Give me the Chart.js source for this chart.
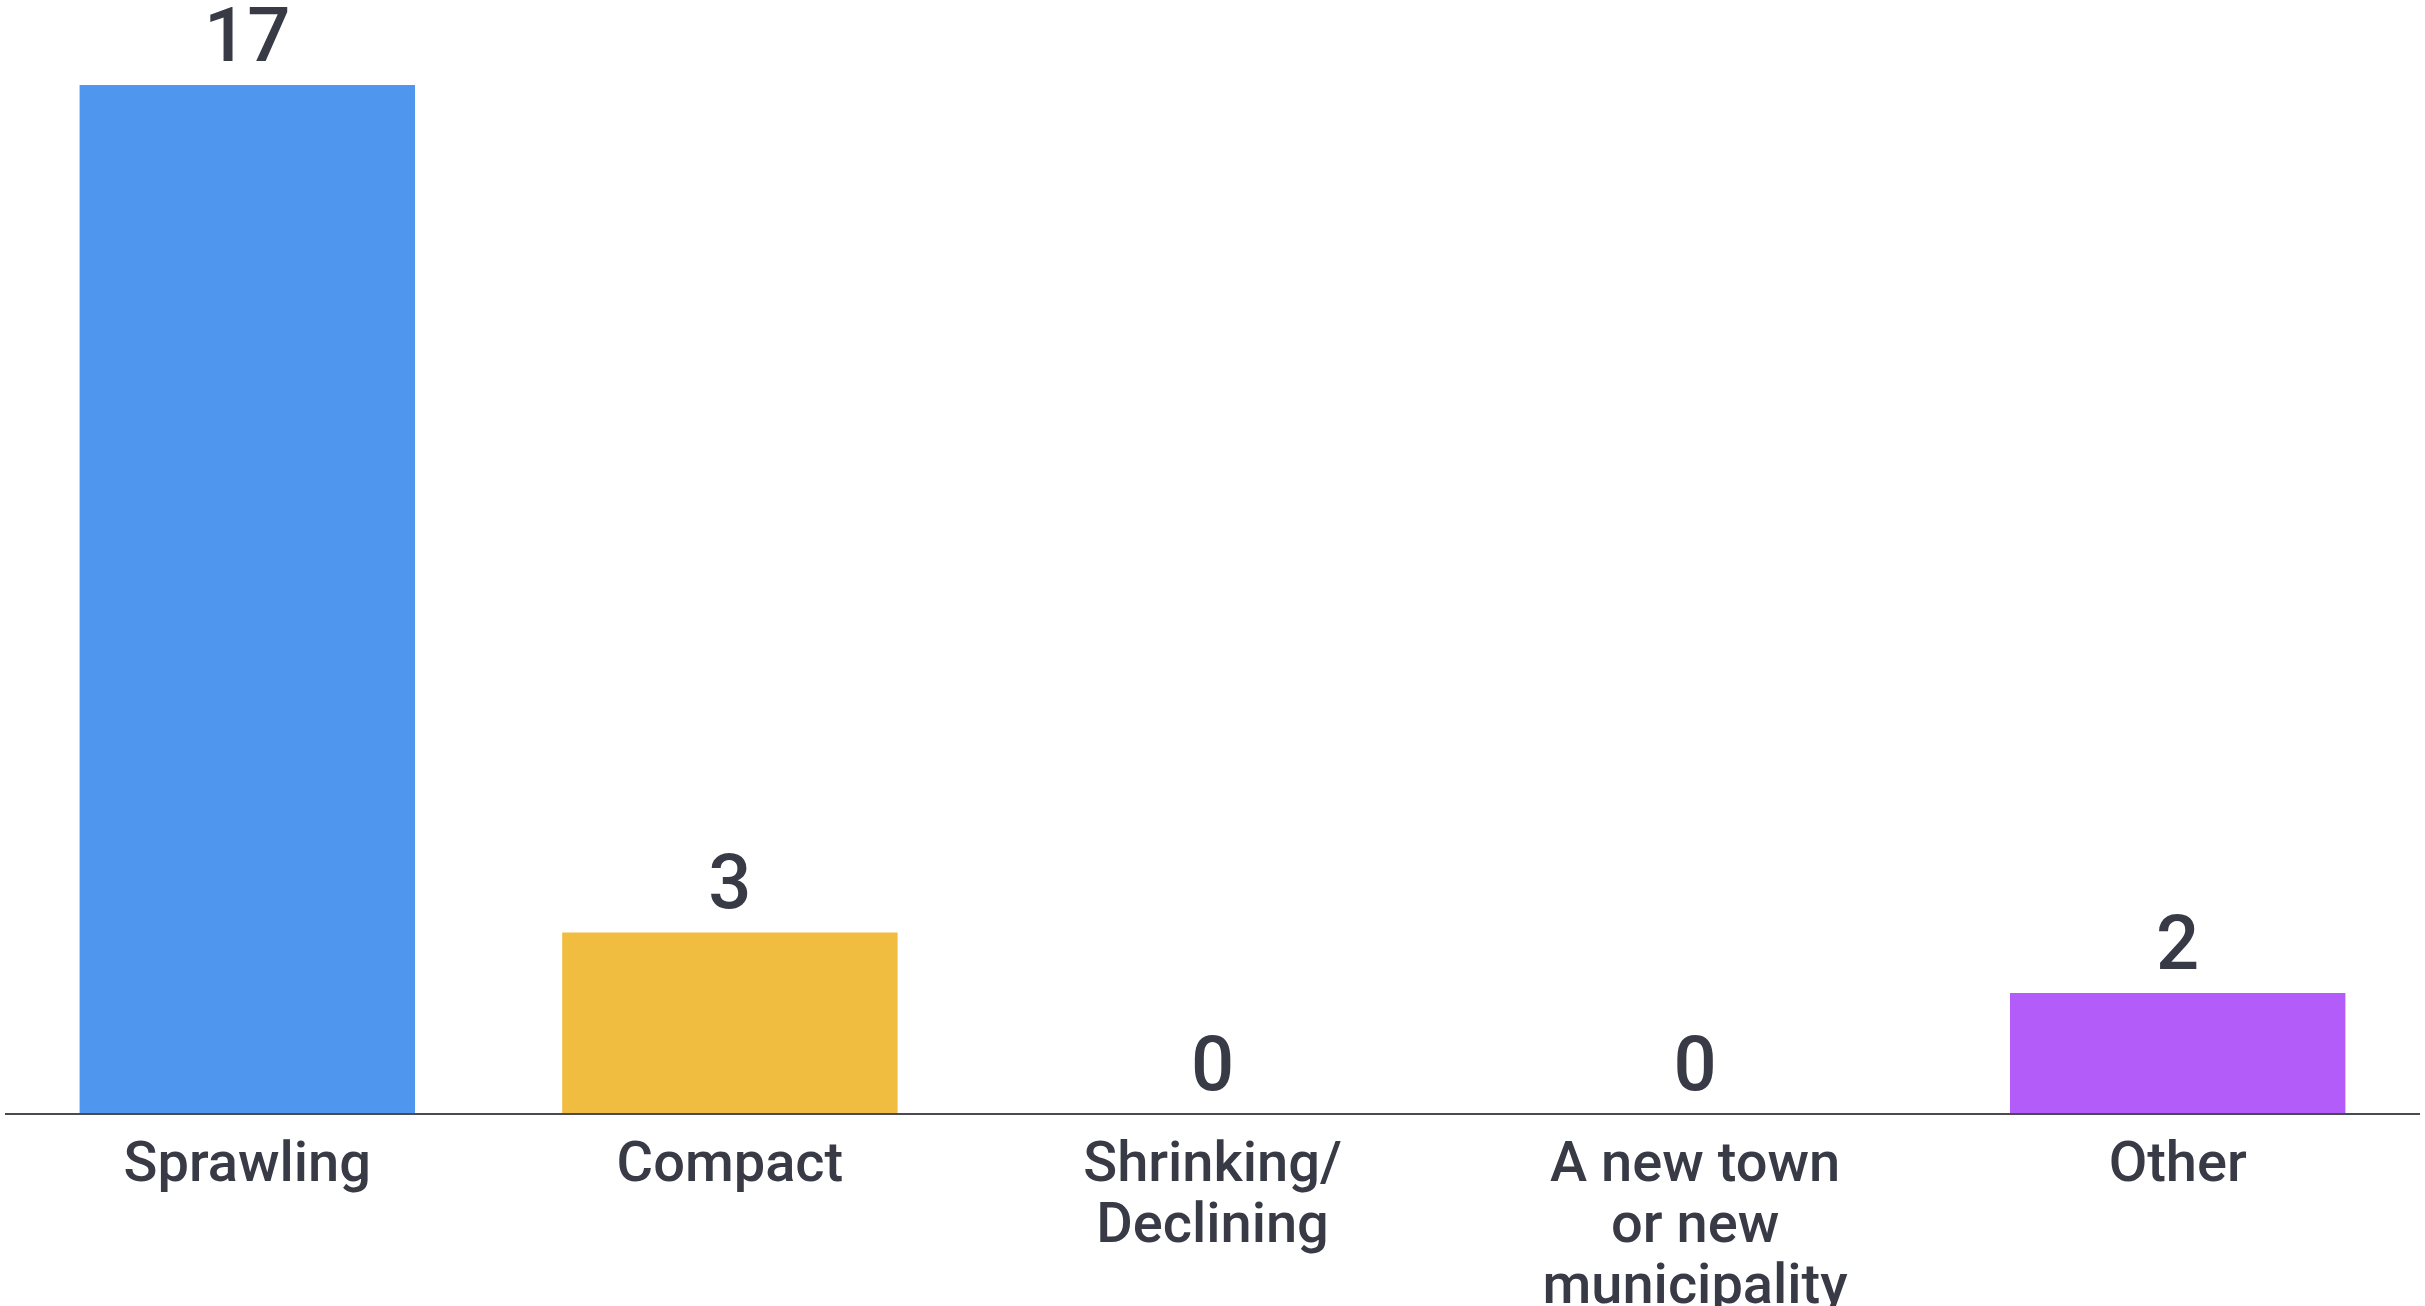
<!DOCTYPE html>
<html>
<head>
<meta charset="utf-8">
<script src="https://cdn.jsdelivr.net/npm/chart.js@4/dist/chart.umd.min.js"></script>
<style>
  html, body { margin: 0; padding: 0; background: #ffffff; }
  canvas { display: block; }
</style>
</head>
<body>
<canvas id="c" width="2425" height="1306"></canvas>
<script>
const categories = [
  ["Sprawling"],
  ["Compact"],
  ["Shrinking/", "Declining"],
  ["A new town", "or new", "municipality"],
  ["Other"]
];
const values = [17, 3, 0, 0, 2];
const barColors = ["#4f97ee", "#f0bd40", "#ffffff", "#ffffff", "#b35cfa"];

const textColor = "#383a46";
const fontFamily = "Roboto, 'Noto Sans', sans-serif";

const valueLabels = {
  id: "valueLabels",
  afterDatasetsDraw(chart) {
    const ctx = chart.ctx;
    const meta = chart.getDatasetMeta(0);
    ctx.save();
    ctx.fillStyle = textColor;
    ctx.font = "500 76px " + fontFamily;
    ctx.textAlign = "center";
    ctx.textBaseline = "alphabetic";
    meta.data.forEach((bar, i) => {
      ctx.fillText(String(values[i]), bar.x, bar.y - 24);
    });
    ctx.restore();
  }
};

new Chart(document.getElementById("c"), {
  type: "bar",
  data: {
    labels: categories,
    datasets: [{
      data: values,
      backgroundColor: barColors,
      borderWidth: 0,
      barPercentage: 0.695,
      categoryPercentage: 1.0
    }]
  },
  options: {
    responsive: false,
    devicePixelRatio: 1,
    animation: false,
    layout: { padding: { top: 85, left: 6, right: 6, bottom: 0 } },
    plugins: {
      legend: { display: false },
      tooltip: { enabled: false }
    },
    scales: {
      x: {
        grid: { display: false, drawTicks: false },
        border: { display: true, color: "#4a4a50", width: 2, z: 1 },
        ticks: {
          color: textColor,
          padding: 22,
          maxRotation: 0,
          autoSkip: false,
          font: { family: fontFamily, size: 56, weight: "500", lineHeight: 1.09 }
        },
        afterFit(scale) { scale.height = 192; }
      },
      y: {
        display: false,
        min: 0,
        max: 17
      }
    }
  },
  plugins: [valueLabels]
});
</script>
</body>
</html>
